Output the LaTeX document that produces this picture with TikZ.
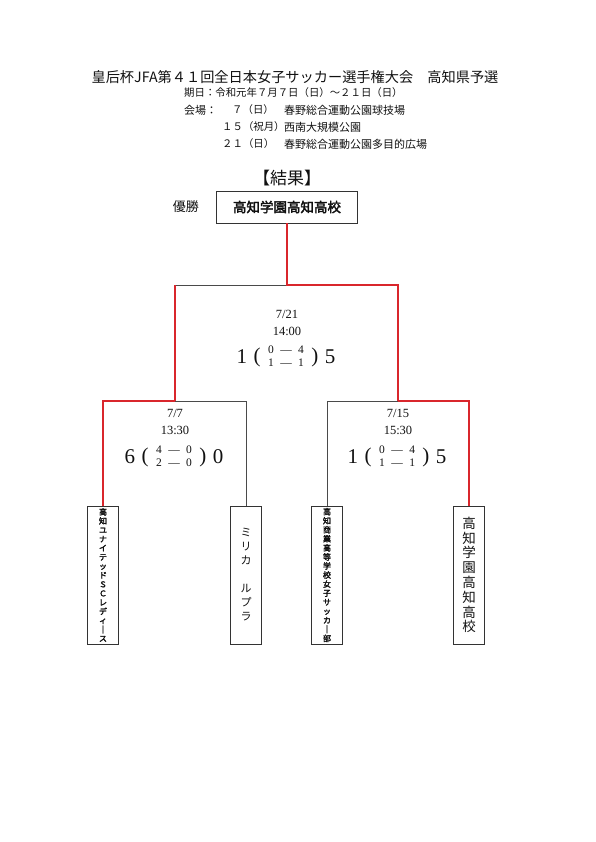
\documentclass[tikz,border=0pt]{standalone}
\usepackage{fontspec}
\setmainfont{Liberation Serif}
\newfontfamily\jpfont[AutoFakeBold=2.5]{Noto Sans CJK JP}
\usetikzlibrary{positioning}
\definecolor{ink}{HTML}{111111}
\definecolor{boxGray}{HTML}{333333}
\definecolor{lineGray}{HTML}{4A4A4A}
\definecolor{winRed}{HTML}{D9262C}
\tikzset{
  title text/.style={
    font=\jpfont\fontsize{14.2}{16}\selectfont,
    inner sep=0pt,
    text=ink
  },
  header text/.style={
    font=\jpfont\fontsize{11}{13}\selectfont,
    anchor=west,
    inner sep=0pt,
    text=ink
  },
  day text/.style={
    header text,
    font=\jpfont\fontsize{10.4}{13}\selectfont
  },
  winner card/.style={
    draw=boxGray,
    line width=0.8pt,
    minimum width=141pt,
    minimum height=32pt,
    inner sep=0pt,
    font=\jpfont\bfseries\fontsize{13.5}{15}\selectfont,
    text=ink
  },
  team card/.style={
    draw=boxGray,
    line width=0.8pt,
    minimum width=31pt,
    minimum height=138pt,
    inner sep=0pt,
    align=center,
    text=ink
  },
  small team/.style={
    team card,
    font=\jpfont\bfseries\fontsize{8}{9.05}\selectfont
  },
  match info/.style={
    font=\fontsize{12.5}{14}\selectfont,
    inner sep=0pt,
    text=ink
  },
  goal total/.style={
    font=\fontsize{21}{22}\selectfont,
    inner sep=0pt,
    text=ink
  },
  goal bracket/.style={
    font=\fontsize{21}{22}\selectfont,
    inner sep=0pt,
    text=ink
  },
  half scores/.style={
    font=\fontsize{11.5}{13}\selectfont,
    inner sep=0pt,
    text=ink
  },
  win edge/.style={
    draw=winRed,
    line width=1.6pt
  },
  lose edge/.style={
    draw=lineGray,
    line width=0.9pt
  }
}
\newcommand{\halves}[4]{%
  \begin{tabular}{@{}c@{\hspace{6.5pt}}c@{\hspace{6.5pt}}c@{}}
    #1 & — & #2\\
    #3 & — & #4
  \end{tabular}}

\begin{document}
\begin{tikzpicture}[x=1pt,y=-1pt]
  \path[fill=white] (0,0) rectangle (595,842);
  \useasboundingbox (0,0) rectangle (595,842);

  % heading
  \node[title text] (title) at (295,77) {皇后杯JFA第４１回全日本女子サッカー選手権大会　高知県予選};
  \node[day text] (period) at (184,93) {期日：令和元年７月７日（日）～２１日（日）};
  \node[header text] (venue-label) at (184,110) {会場：};
  \node[day text] (day-1) at (232,110) {７（日）};
  \node[day text] (day-2) at (222,127) {１５（祝月）};
  \node[day text] (day-3) at (222,144) {２１（日）};
  \node[header text] (place-1) at (284,110) {春野総合運動公園球技場};
  \node[header text] (place-2) at (place-1.west |- day-2) {西南大規模公園};
  \node[header text] (place-3) at (place-1.west |- day-3) {春野総合運動公園多目的広場};

  % result
  \node[title text,font=\jpfont\fontsize{17}{19}\selectfont] (result) at (287,178) {【結果】};
  \node[winner card] (winner) at (287,207) {高知学園高知高校};
  \node[title text,font=\jpfont\fontsize{13}{15}\selectfont,left=17pt of winner] (champion) {優勝};

  % final
  \node[match info] (final-date) at (287,314) {7/21};
  \node[match info] (final-time) at (287,331) {14:00};
  \node[half scores] (final-pair) at (286,357) {\halves{0}{4}{1}{1}};
  \node[goal bracket,left=7pt of final-pair] (final-open) {(};
  \node[goal total,left=6pt of final-open] (final-home) {1};
  \node[goal bracket,right=7pt of final-pair] (final-close) {)};
  \node[goal total,right=6pt of final-close] (final-away) {5};

  % semi-finals
  \node[match info] (left-date) at (175,413) {7/7};
  \node[match info] (left-time) at (175,430) {13:30};
  \node[half scores] (left-pair) at (174,457) {\halves{4}{0}{2}{0}};
  \node[goal bracket,left=7pt of left-pair] (left-open) {(};
  \node[goal total,left=6pt of left-open] (left-home) {6};
  \node[goal bracket,right=7pt of left-pair] (left-close) {)};
  \node[goal total,right=6pt of left-close] (left-away) {0};

  \node[match info] (right-date) at (398,413) {7/15};
  \node[match info] (right-time) at (398,430) {15:30};
  \node[half scores] (right-pair) at (397,457) {\halves{0}{4}{1}{1}};
  \node[goal bracket,left=7pt of right-pair] (right-open) {(};
  \node[goal total,left=6pt of right-open] (right-home) {1};
  \node[goal bracket,right=7pt of right-pair] (right-close) {)};
  \node[goal total,right=6pt of right-close] (right-away) {5};

  % teams
  \node[small team] (team-a) at (103,575) {高\\知\\ユ\\ナ\\イ\\テ\\ッ\\ド\\Ｓ\\Ｃ\\レ\\デ\\ィ\\｜\\ス};
  \node[team card,font=\jpfont\fontsize{11}{14}\selectfont] (team-b) at (246,575) {ミ\\リ\\カ\\　\\ル\\プ\\ラ};
  \node[small team] (team-c) at (327,575) {高\\知\\商\\業\\高\\等\\学\\校\\女\\子\\サ\\ッ\\カ\\｜\\部};
  \node[team card,font=\jpfont\fontsize{13.5}{14.8}\selectfont] (team-d) at (469,575) {高\\知\\学\\園\\高\\知\\高\\校};

  \coordinate (final-join) at (287,285);
  \coordinate (left-join) at (175,401);
  \coordinate (right-join) at (398,401);

  \draw[lose edge] (final-join) -- (final-join -| left-join);
  \draw[lose edge] (left-join) -| (team-b.north);
  \draw[lose edge] (right-join) -| (team-c.north);
  \draw[win edge] (winner.south) -- (final-join) -| (right-join);
  \draw[win edge] (final-join -| left-join) -- (left-join);
  \draw[win edge] (left-join) -| (team-a.north);
  \draw[win edge] (right-join) -| (team-d.north);
\end{tikzpicture}
\end{document}
